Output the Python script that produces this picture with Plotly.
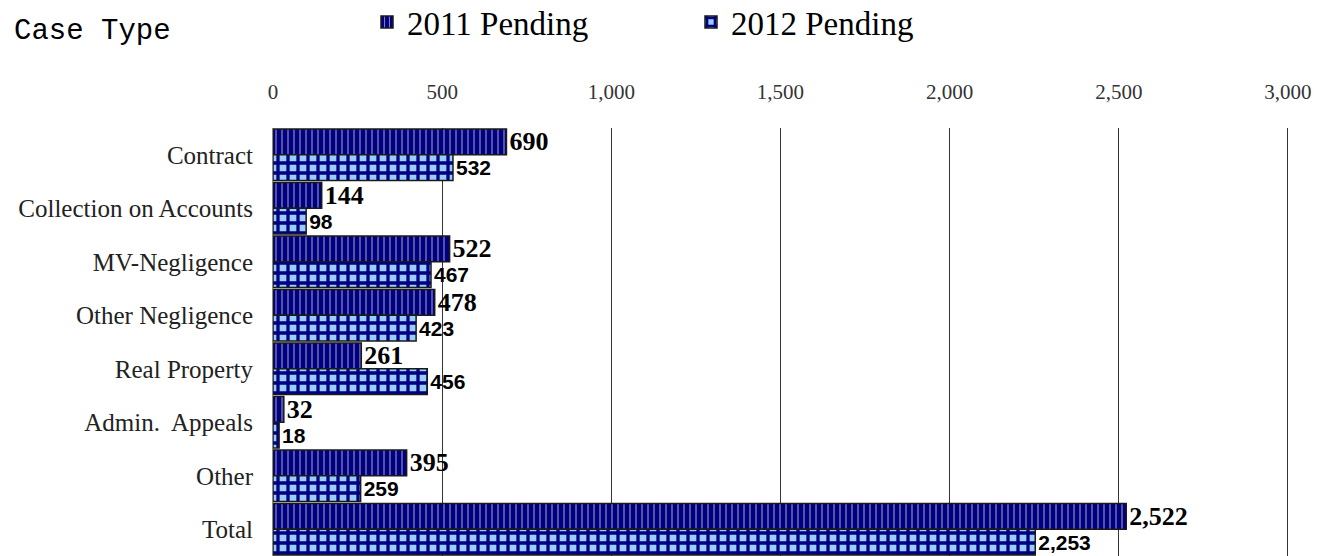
import plotly.graph_objects as go

# ---------------------------------------------------------------------------

case_types = ["Contract", "Collection on Accounts", "MV-Negligence",
              "Other Negligence", "Real Property", "Admin.  Appeals",
              "Other", "Total"]
pending_2011 = [690, 144, 522, 478, 261, 32, 395, 2522]
pending_2012 = [532, 98, 467, 423, 456, 18, 259, 2253]
x_ticks = [0, 500, 1000, 1500, 2000, 2500, 3000]

NAVY = "#000080"
SERIF = "Liberation Serif, Times New Roman, serif"

W, H = 1325, 556
L, R, T, B = 273, 36, 128, 0
PW, PH = W - L - R, H - T - B


def px_x(px):
    return (px - L) / PW


def px_y(py):
    return 1 - (py - T) / PH

# ---------------------------------------------------------------------------

bar_2011 = go.Bar(
    name="2011 Pending",
    y=case_types,
    x=pending_2011,
    orientation="h",
    marker=dict(
        color=NAVY,
        line=dict(color="#1a1a1a", width=1.5),
        pattern=dict(shape="|", fgcolor="#8c8cc0", bgcolor=NAVY,
                     size=6, solidity=0.2, fillmode="replace"),
    ),
    texttemplate="%{x:,}",
    textposition="outside",
    constraintext="none",
    cliponaxis=False,
    textfont=dict(family=SERIF, size=26, color="black", weight="bold"),
)

bar_2012 = go.Bar(
    name="2012 Pending",
    y=case_types,
    x=pending_2012,
    orientation="h",
    marker=dict(
        color="#99ccff",
        line=dict(color="#1a1a1a", width=1.5),
        pattern=dict(shape="+", fgcolor=NAVY, bgcolor="#99ccff",
                     size=10, solidity=0.55, fillmode="replace"),
    ),
    texttemplate="%{x:,}",
    textposition="outside",
    constraintext="none",
    cliponaxis=False,
    textfont=dict(family="Liberation Sans, Arial, sans-serif", size=21,
                  color="black", weight="bold"),
)

layout = go.Layout(
    width=W,
    height=H,
    margin=dict(l=L, r=R, t=T, b=B, pad=0, autoexpand=False),
    paper_bgcolor="white",
    plot_bgcolor="white",
    barmode="group",
    bargap=0.04,
    bargroupgap=0,
    font=dict(family=SERIF, color="#222"),
    showlegend=True,
    legend=dict(
        orientation="h",
        x=px_x(367), xanchor="left",
        y=px_y(22), yanchor="middle",
        font=dict(family=SERIF, size=33, color="black"),
        entrywidth=279,
        itemwidth=30,
        traceorder="normal",
    ),
    xaxis=dict(
        side="top",
        range=[0, 3003],
        tickvals=x_ticks,
        tickformat=",",
        showgrid=True,
        gridcolor="#333",
        gridwidth=1,
        zeroline=False,
        showline=False,
        ticks="",
        ticklabelstandoff=24,
        tickfont=dict(family=SERIF, size=21, color="#333"),
    ),
    yaxis=dict(
        autorange="reversed",
        showgrid=False,
        zeroline=False,
        showline=True,
        linecolor="#888",
        linewidth=1,
        ticks="",
        ticklabelstandoff=14,
        tickfont=dict(family=SERIF, size=25, color="#222"),
    ),
    annotations=[
        dict(text="Case Type", x=px_x(12), y=px_y(31),
             xref="paper", yref="paper",
             showarrow=False, xanchor="left", yanchor="middle",
             font=dict(family="Liberation Mono, Courier New, monospace",
                       size=29, color="black")),
    ],
)

fig = go.Figure(data=[bar_2011, bar_2012], layout=layout)
# drop the browser's default page margin so the figure sits at (0, 0)
fig.write_html("out.html",
               config={"displayModeBar": False},
               post_script="document.body.style.margin='0';")
